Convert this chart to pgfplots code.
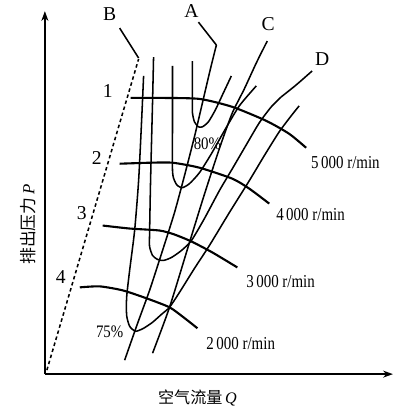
\documentclass[border=0pt]{standalone}
\usepackage{pgfplots}
\pgfplotsset{compat=1.18}
\usepackage{fontspec}
\setmainfont{Liberation Serif}
\newfontfamily\cjk{Noto Sans CJK SC}
\usetikzlibrary{arrows.meta}
\begin{document}
\begin{tikzpicture}
\begin{axis}[
  scale only axis, width=10cm, height=10.4cm,
  xmin=0, xmax=400, ymin=0, ymax=416, y dir=reverse,
  hide axis, clip=false, no markers,
  cycle list={{black,solid}},
  every axis plot/.append style={line width=1.1pt, smooth, tension=0.4, line join=round},
]
\addplot[draw=none, smooth=false] coordinates {(0,0) (400,416)};
% axes
\addplot[line width=1.4pt, smooth=false, -{Stealth[length=7pt,width=5pt]}] coordinates {(45,374) (45,10)};
\addplot[line width=1.4pt, smooth=false, -{Stealth[length=7pt,width=5pt]}] coordinates {(45,374) (394,374)};
% surge line B (dashed) and leader
\addplot[line width=1.1pt, dash pattern=on 2.5pt off 2pt, smooth=false] coordinates {(47,370) (139,58)};
\addplot[smooth=false] coordinates {(139,57) (120,27)};
% efficiency contours (U shapes)
\addplot coordinates {(193,60) (193,100) (193,112) (195,121) (199,126) (203,126) (209,121) (216,109) (224,92) (232,75)};
\addplot coordinates {(173,65) (173,120) (173,170) (175,180) (178,185) (183,187) (190,183) (200,172) (212,153) (225,130) (240,105) (257,85)};
\addplot coordinates {(154,56) (153,100) (151,180) (150,233) (150,246) (153,255) (158,259) (164,260) (172,257) (182,250) (192,240) (205,218) (220,190) (233,168) (247,144) (260,122) (272,106) (282,96)};
\addplot[smooth=false] coordinates {(282,96) (297,84) (313,70)};
\addplot coordinates {(144,75) (142,120) (139,180) (135,230) (130,270) (127,297) (127,315) (130,326) (136,331) (144,328) (153,322) (162,314) (170,307) (180,292) (195,268) (210,245) (230,212) (250,180) (265,155) (280,131) (292,115) (300,105)};
% line A with leader
\addplot coordinates {(125,360) (138,323) (150,290) (163,250) (175,212) (185,175) (195,136) (203,102) (211,68) (217,44)};
\addplot[smooth=false] coordinates {(217,44) (199,21)};
% line C
\addplot coordinates {(153,353) (170,307) (190,242) (203,200) (212,172) (222,142) (233,112) (245,88) (257,62) (268,40)};
% speed lines
\addplot[line width=1.5pt] coordinates {(131,97) (160,97) (200,98) (233,106) (267,120) (290,133) (307,147)};
\addplot[line width=1.5pt] coordinates {(120,163) (150,162) (173,162) (200,167) (233,178) (250,188) (270,203)};
\addplot[line width=1.5pt] coordinates {(103,225) (130,228) (160,230) (175,234) (192,241) (213,252) (238,267)};
\addplot[line width=1.5pt] coordinates {(80,287) (100,286) (123,290) (147,298) (170,307) (184,317) (198,328)};
% labels
\node[font=\fontsize{13}{15}\selectfont, xscale=0.82, anchor=west] at (axis cs:308,162) {5\,000 r/min};
\node[font=\fontsize{13}{15}\selectfont, xscale=0.82, anchor=west] at (axis cs:273,214) {4\,000 r/min};
\node[font=\fontsize{13}{15}\selectfont, xscale=0.82, anchor=west] at (axis cs:243,281) {3\,000 r/min};
\node[font=\fontsize{13}{15}\selectfont, xscale=0.82, anchor=west] at (axis cs:203,343) {2\,000 r/min};
\node[font=\fontsize{14}{16}\selectfont] at (axis cs:108,90) {1};
\node[font=\fontsize{14}{16}\selectfont] at (axis cs:97,157) {2};
\node[font=\fontsize{14}{16}\selectfont] at (axis cs:82,213) {3};
\node[font=\fontsize{14}{16}\selectfont] at (axis cs:61,277) {4};
\node[font=\fontsize{12.5}{14}\selectfont, xscale=0.85] at (axis cs:208,143) {80\%};
\node[font=\fontsize{12.5}{14}\selectfont, xscale=0.85] at (axis cs:110,332) {75\%};
\node[font=\fontsize{14}{16}\selectfont] at (axis cs:110,13) {B};
\node[font=\fontsize{14}{16}\selectfont] at (axis cs:192,10) {A};
\node[font=\fontsize{14}{16}\selectfont] at (axis cs:269,23) {C};
\node[font=\fontsize{14}{16}\selectfont] at (axis cs:323,58) {D};
\node[rotate=90, font=\fontsize{12}{14}\selectfont] at (axis cs:28,224) {{\cjk 排出压力}\,\textit{P}};
\node[font=\fontsize{11.5}{14}\selectfont] at (axis cs:198,398) {{\cjk 空气流量}\,\textit{Q}};
\end{axis}
\end{tikzpicture}
\end{document}
